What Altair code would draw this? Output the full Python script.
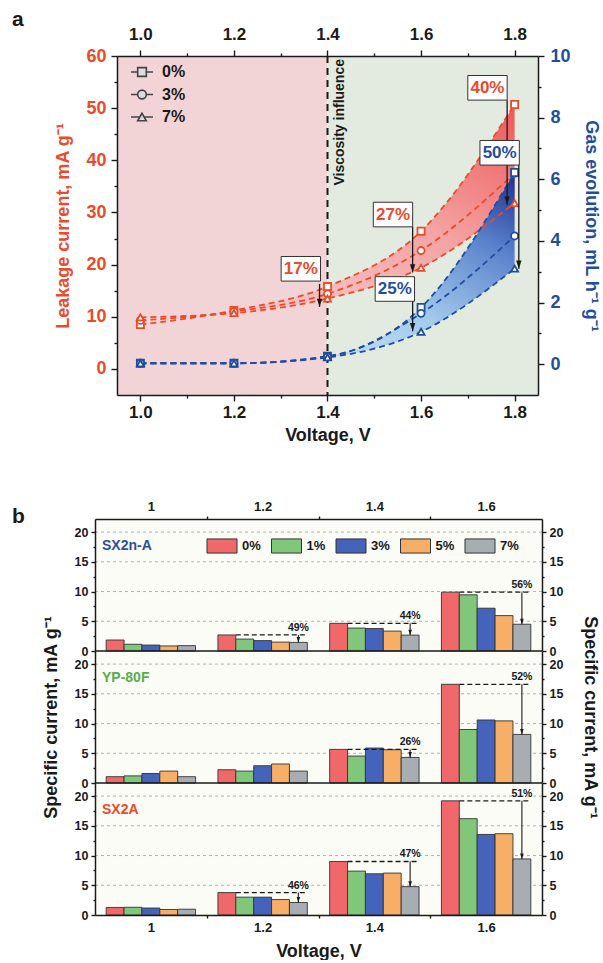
import altair as alt
import pandas as pd

FONT = "Liberation Sans"
RED = "#eb4a2b"
BLUE = "#1f4ea1"
GREEN_T = "#5aac4c"
INK = "#1a1a1a"

# ---------------- panel a data ----------------
volt_a = [1.0, 1.2, 1.4, 1.6, 1.8]
conc_a = ["0%", "3%", "7%"]
leak_0 = [8.5, 11.2, 15.8, 26.4, 50.7]
leak_3 = [9.3, 11.0, 14.4, 22.7, 37.5]
leak_7 = [9.9, 10.7, 13.5, 19.4, 31.8]
gas_0 = [0.03, 0.03, 0.26, 1.84, 6.22]
gas_3 = [0.03, 0.03, 0.24, 1.65, 4.16]
gas_7 = [0.03, 0.03, 0.22, 1.05, 3.10]

region_from = [0.95, 1.4]
region_to = [1.4, 1.85]
region_fill = ["#f2d4d6", "#e3ebe0"]

leak_ann_label = ["17%", "27%", "40%"]
leak_ann_box_x = [1.343, 1.540, 1.742]
leak_ann_box_y = [19.2, 29.6, 53.9]
leak_ann_arrow_x = [1.383, 1.582, 1.784]
leak_ann_arrow_from = [16.3, 27.3, 51.5]
leak_ann_arrow_to = [11.9, 18.5, 31.5]

gas_ann_label = ["25%", "50%"]
gas_ann_box_x = [1.544, 1.768]
gas_ann_box_y = [2.44, 6.86]
gas_ann_arrow_x = [1.582, 1.809]
gas_ann_arrow_from = [2.05, 6.46]
gas_ann_arrow_to = [1.07, 3.10]

# ---------------- panel b data ----------------
volt_b = [1.0, 1.2, 1.4, 1.6]
conc_b = ["0%", "1%", "3%", "5%", "7%"]
bar_colors = ["#f0686a", "#80c67b", "#4463bb", "#f7ae66", "#a8adb2"]

sx2na_0 = [1.85, 2.7, 4.65, 9.9]
sx2na_1 = [1.13, 2.0, 3.86, 9.45]
sx2na_3 = [1.0, 1.75, 3.78, 7.2]
sx2na_5 = [0.85, 1.5, 3.35, 5.95]
sx2na_7 = [0.9, 1.45, 2.67, 4.5]
sx2na_ann_v = [1.2, 1.4, 1.6]
sx2na_ann_label = ["49%", "44%", "56%"]

yp80f_0 = [1.06, 2.23, 5.65, 16.6]
yp80f_1 = [1.2, 2.0, 4.53, 9.0]
yp80f_3 = [1.6, 2.9, 5.88, 10.6]
yp80f_5 = [2.0, 3.2, 5.6, 10.45]
yp80f_7 = [1.06, 2.0, 4.3, 8.17]
yp80f_ann_v = [1.4, 1.6]
yp80f_ann_label = ["26%", "52%"]

sx2a_0 = [1.27, 3.77, 9.0, 19.2]
sx2a_1 = [1.3, 3.0, 7.38, 16.2]
sx2a_3 = [1.17, 3.0, 6.93, 13.55]
sx2a_5 = [0.93, 2.6, 7.05, 13.67]
sx2a_7 = [0.97, 2.1, 4.77, 9.43]
sx2a_ann_v = [1.2, 1.4, 1.6]
sx2a_ann_label = ["46%", "47%", "51%"]

grid_b = [5, 10, 15, 20]

# ---------------- layout constants ----------------
ARROW = "M0,0L-0.6,-1.8L0.6,-1.8Z"
BOX = "M-1.6,-1H1.6V1H-1.6Z"
SWATCH = "M-1,-0.47H1V0.47H-1Z"
W = 447                 # common width (panel b frame)
H_A = 339               # panel a plot height
XL, XR = 22, 443        # panel a frame inside the common width
GAP = 124               # panel a bottom -> panel b top
Y0 = H_A + GAP          # panel b top
H_P = 132               # height of each panel-b strip
HT = Y0 + 3 * H_P       # total height
BW = 0.032              # bar width in volts


def axis(orient, values, labels=True, title=None, tick=5, domain=False, color=INK,
         size=17, fmt=None, label_pad=3, title_pad=8, title_color=None, offset=None):
    kw = dict(orient=orient, values=values, labels=labels, ticks=tick > 0,
              tickSize=tick, tickColor=INK, tickWidth=1.4, domain=domain,
              domainColor=INK, domainWidth=1.5, grid=False, zindex=1,
              labelFont=FONT, labelFontSize=size, labelFontWeight="bold",
              labelColor=color, labelPadding=label_pad, labelFlush=False,
              labelOverlap=False)
    if offset is not None:
        kw["offset"] = offset
    if fmt:
        kw["format"] = fmt
    if title:
        kw.update(title=title, titleFont=FONT, titleFontSize=18, titleFontWeight="bold",
                  titleColor=title_color or color, titlePadding=title_pad)
    else:
        kw["title"] = None
    return alt.Axis(**kw)


def long_df(vs, series, names):
    rows = []
    for name, vals in zip(names, series):
        for v, y in zip(vs, vals):
            rows.append({"V": v, "conc": name, "val": y})
    return pd.DataFrame(rows)


# ================= panel a =================
xs_a = alt.Scale(domain=[0.95, 1.85], range=[XL, XR], nice=False, zero=False)
ysl = alt.Scale(domain=[-5, 60], range=[H_A, 0], nice=False, zero=False)
ysr = alt.Scale(domain=[-1, 10], range=[H_A, 0], nice=False, zero=False)


def XA(f, ax=None):
    return alt.X(f, type="quantitative", scale=xs_a, axis=ax)


def YL(f, ax=None):
    return alt.Y(f, type="quantitative", scale=ysl, axis=ax)


def YR(f, ax=None):
    return alt.Y(f, type="quantitative", scale=ysr, axis=ax)


df_leak = long_df(volt_a, [leak_0, leak_3, leak_7], conc_a)
df_gas = long_df(volt_a, [gas_0, gas_3, gas_7], conc_a)
df_leak_w = pd.DataFrame({"V": volt_a, "p0": leak_0, "p7": leak_7})
df_gas_w = pd.DataFrame({"V": volt_a, "p0": gas_0, "p7": gas_7})
df_bg = pd.DataFrame({"x0": region_from, "x1": region_to, "fill": region_fill})
df_ann_l = pd.DataFrame({"lab": leak_ann_label, "bx": leak_ann_box_x, "by": leak_ann_box_y,
                         "ax": leak_ann_arrow_x, "af": leak_ann_arrow_from, "at": leak_ann_arrow_to})
df_ann_r = pd.DataFrame({"lab": gas_ann_label, "bx": gas_ann_box_x, "by": gas_ann_box_y,
                         "ax": gas_ann_arrow_x, "af": gas_ann_arrow_from, "at": gas_ann_arrow_to})
df_leg = pd.DataFrame({"lab": conc_a})

xb_major = axis("bottom", volt_a, fmt=".1f", tick=6, domain=True, size=17,
                title="Voltage, V", title_pad=6, offset=-(HT - H_A))
xt_major = axis("top", volt_a, fmt=".1f", tick=6, domain=True, size=17, label_pad=7)
xb_minor = axis("bottom", [1.1, 1.3, 1.5, 1.7], labels=False, tick=3, offset=-(HT - H_A))
xt_minor = axis("top", [1.1, 1.3, 1.5, 1.7], labels=False, tick=3)
yl_major = axis("left", [0, 10, 20, 30, 40, 50, 60], tick=6, domain=True, color=RED, size=18,
                title="Leakage current, mA g⁻¹", title_pad=13, label_pad=5, offset=-XL)
yl_minor = axis("left", [5, 15, 25, 35, 45, 55], labels=False, tick=3, offset=-XL)
yr_major = axis("right", [0, 2, 4, 6, 8, 10], tick=6, domain=True, color=BLUE, size=18,
                title="Gas evolution, mL h⁻¹ g⁻¹", title_pad=11, label_pad=6, offset=-(W - XR))
yr_minor = axis("right", [1, 3, 5, 7, 9], labels=False, tick=3, offset=-(W - XR))

red_grad = alt.Gradient(gradient="linear", x1=0, y1=1, x2=1, y2=0, stops=[
    alt.GradientStop(color="#f8d6d6", offset=0),
    alt.GradientStop(color="#f4a4a4", offset=0.6),
    alt.GradientStop(color="#ee5858", offset=1)])
blue_grad = alt.Gradient(gradient="linear", x1=0, y1=1, x2=1, y2=0, stops=[
    alt.GradientStop(color="#e2eef9", offset=0),
    alt.GradientStop(color="#a3cbec", offset=0.5),
    alt.GradientStop(color="#5a82cb", offset=0.78),
    alt.GradientStop(color="#1f2e8e", offset=1)])

shape_scale = alt.Scale(domain=conc_a, range=["square", "circle", "triangle-up"])

bg = alt.Chart(df_bg).mark_rect().encode(
    x=XA("x0", xb_major), x2="x1", y=alt.value(0), y2=alt.value(H_A),
    fill=alt.Fill("fill:N", scale=None))
vline = alt.Chart(pd.DataFrame({"x": [1.4]})).mark_rule(
    color=INK, strokeWidth=2, strokeDash=[7, 5]).encode(
    x=XA("x", xt_major), y=alt.value(0), y2=alt.value(H_A))
visc = alt.Chart(pd.DataFrame({"x": [1.4], "t": ["Viscosity influence"]})).mark_text(
    angle=270, align="right", baseline="top", dy=5, font=FONT, fontSize=14,
    fontWeight="bold", color=INK).encode(x=XA("x", xb_minor), y=alt.value(3), text="t:N")
area_l = alt.Chart(df_leak_w).mark_area(interpolate="monotone", color=red_grad, opacity=1).encode(
    x=XA("V", xt_minor), y=YL("p0", yl_major), y2="p7")
area_r = alt.Chart(df_gas_w).mark_area(interpolate="monotone", color=blue_grad, opacity=1).encode(
    x=XA("V"), y=YR("p0", yr_major), y2="p7")
lines_l = alt.Chart(df_leak).mark_line(interpolate="monotone", color=RED, strokeDash=[6, 4],
                                       strokeWidth=1.8).encode(
    x=XA("V"), y=YL("val", yl_minor), detail="conc:N")
lines_r = alt.Chart(df_gas).mark_line(interpolate="monotone", color=BLUE, strokeDash=[6, 4],
                                      strokeWidth=1.8).encode(
    x=XA("V"), y=YR("val", yr_minor), detail="conc:N")
pts_l = alt.Chart(df_leak).mark_point(size=50, filled=True, fill="white", stroke=RED,
                                      strokeWidth=1.8, opacity=1).encode(
    x=XA("V"), y=YL("val"), shape=alt.Shape("conc:N", scale=shape_scale, legend=None))
pts_r = alt.Chart(df_gas).mark_point(size=50, filled=True, fill="white", stroke=BLUE,
                                     strokeWidth=1.8, opacity=1).encode(
    x=XA("V"), y=YR("val"), shape=alt.Shape("conc:N", scale=shape_scale, legend=None))

# legend of panel a drawn as marks (symbol with line stubs + label)
leg_y = alt.Y("lab:N", scale=alt.Scale(type="point", domain=conc_a, range=[16, 61], padding=0),
              axis=None)
leg_line = alt.Chart(df_leg).mark_rule(color="#444", strokeWidth=1.5).encode(
    x=alt.value(XL + 14), x2=alt.value(XL + 36), y=leg_y)
leg_sym = alt.Chart(df_leg).mark_point(size=75, filled=True, fill="#dcdcdc", stroke="#444",
                                       strokeWidth=1.6, opacity=1).encode(
    x=alt.value(XL + 25), y=leg_y, shape=alt.Shape("lab:N", scale=shape_scale, legend=None))
leg_txt = alt.Chart(df_leg).mark_text(align="left", baseline="middle", font=FONT, fontSize=16,
                                      fontWeight="bold", color=INK).encode(
    x=alt.value(XL + 45), y=leg_y, text="lab:N")


def ann_layers(df, Y, color):
    arr = alt.Chart(df).mark_rule(color=INK, strokeWidth=1.3).encode(
        x=XA("ax"), y=Y("af"), y2="at")
    head = alt.Chart(df).mark_point(shape=ARROW, size=81, filled=True, color=INK, opacity=1).encode(
        x=XA("ax"), y=Y("at"))
    box = alt.Chart(df).mark_point(shape=BOX, size=605, filled=True, fill="white", stroke="#333",
                                   strokeWidth=1, opacity=1).encode(x=XA("bx"), y=Y("by"))
    txt = alt.Chart(df).mark_text(font=FONT, fontSize=17, fontWeight="bold", color=color,
                                  baseline="middle").encode(x=XA("bx"), y=Y("by"), text="lab:N")
    return [arr, head, box, txt]


letter_a = alt.Chart(pd.DataFrame({"t": ["a"]})).mark_text(
    align="left", baseline="alphabetic", font=FONT, fontSize=21, fontWeight="bold",
    color=INK).encode(x=alt.value(-83), y=alt.value(-30), text="t:N")

arr_l = ann_layers(df_ann_l, YL, RED)
arr_r = ann_layers(df_ann_r, YR, BLUE)
layers = [bg, vline, visc, area_l, area_r, lines_l, lines_r, pts_l, pts_r,
          arr_l[0], arr_l[1], arr_r[0], arr_r[1], arr_l[2], arr_l[3], arr_r[2], arr_r[3],
          leg_line, leg_sym, leg_txt, letter_a]

# ================= panel b =================
xs_b = alt.Scale(domain=[0.9, 1.7], range=[0, W], nice=False, zero=False)
color_b = alt.Scale(domain=conc_b, range=bar_colors)


def XB(f, ax=None):
    return alt.X(f, type="quantitative", scale=xs_b, axis=ax)


layers.append(alt.Chart(pd.DataFrame({"t": [0]})).mark_rect(fill="#fcfcf6").encode(
    x=alt.value(0), x2=alt.value(W), y=alt.value(Y0), y2=alt.value(HT)))

panels = [
    ("SX2n-A", "#2b4ea0", [sx2na_0, sx2na_1, sx2na_3, sx2na_5, sx2na_7], sx2na_ann_v, sx2na_ann_label),
    ("YP-80F", GREEN_T, [yp80f_0, yp80f_1, yp80f_3, yp80f_5, yp80f_7], yp80f_ann_v, yp80f_ann_label),
    ("SX2A", RED, [sx2a_0, sx2a_1, sx2a_3, sx2a_5, sx2a_7], sx2a_ann_v, sx2a_ann_label),
]

for i, (name, ncol, series, ann_v, ann_lab) in enumerate(panels):
    top_px = Y0 + H_P * i
    ys = alt.Scale(domain=[0, 22.2], range=[top_px + H_P, top_px], nice=False, zero=False)

    def YB(f, ax=None, ys=ys):
        return alt.Y(f, type="quantitative", scale=ys, axis=ax)

    df = long_df(volt_b, series, conc_b)
    df["k"] = df["conc"].map({c: j for j, c in enumerate(conc_b)})
    red = [series[0][volt_b.index(v)] for v in ann_v]
    gray = [series[4][volt_b.index(v)] for v in ann_v]
    dfa = pd.DataFrame({"V": ann_v, "lab": ann_lab, "red": red, "gray": gray})
    stitle = "Specific current, mA g⁻¹" if i == 1 else None

    yl = axis("left", [0, 5, 10, 15, 20], tick=4, domain=True, size=12.5, title=stitle,
              title_pad=14)
    yr = axis("right", [0, 5, 10, 15, 20], tick=4, domain=True, size=12.5, title=stitle,
              title_pad=18)
    ylm = axis("left", [2.5, 7.5, 12.5, 17.5], labels=False, tick=2)
    yrm = axis("right", [2.5, 7.5, 12.5, 17.5], labels=False, tick=2)
    if i == 0:
        xa1 = axis("top", volt_b, fmt="~g", tick=0, size=13, label_pad=6, domain=True,
                   offset=-Y0)
        xa2 = axis("top", [1.1, 1.3, 1.5], labels=False, tick=3, offset=-Y0)
    elif i == 2:
        xa1 = axis("bottom", volt_b, fmt="~g", tick=0, size=13, label_pad=6, domain=True,
                   title="Voltage, V", title_pad=8)
        xa2 = axis("bottom", [1.1, 1.3, 1.5], labels=False, tick=3)
    else:
        xa1 = None
        xa2 = None

    grid = alt.Chart(pd.DataFrame({"g": grid_b})).mark_rule(
        color="#a0a0a0", strokeWidth=0.8, strokeDash=[3, 3]).encode(
        y=YB("g"), x=alt.value(0), x2=alt.value(W))
    bars = alt.Chart(df).transform_calculate(
        x1=f"datum.V + (datum.k - 2.5) * {BW}", x2=f"datum.V + (datum.k - 1.5) * {BW}",
        zero="0"
    ).mark_rect(stroke="#333", strokeWidth=0.9, opacity=1).encode(
        x=XB("x1", xa1), x2="x2:Q", y=YB("val", yl), y2="zero:Q",
        color=alt.Color("conc:N", scale=color_b, legend=None))
    ann = alt.Chart(dfa).transform_calculate(
        xa=f"datum.V - 1.5 * {BW}", xb=f"datum.V + 2.5 * {BW}", xg=f"datum.V + 2 * {BW}")
    dash = ann.mark_rule(color=INK, strokeWidth=1.3, strokeDash=[5, 3]).encode(
        x=XB("xa", xa2), x2="xb:Q", y=YB("red", yr))
    arr = ann.mark_rule(color=INK, strokeWidth=1.1).encode(
        x=XB("xg"), y=YB("red", ylm), y2="gray:Q")
    head = ann.mark_point(shape=ARROW, size=36, filled=True, color=INK, opacity=1).encode(
        x=XB("xg"), y=YB("gray", yrm))
    txt = ann.mark_text(font=FONT, fontSize=10.5, fontWeight="bold", color=INK,
                        baseline="bottom", dy=-2).encode(
        x=XB("xg"), y=YB("red"), text="lab:N")
    lab = alt.Chart(pd.DataFrame({"t": [name]})).mark_text(
        align="left", baseline="alphabetic", font=FONT, fontSize=14, fontWeight="bold",
        color=ncol).encode(x=alt.value(7), y=alt.value(top_px + 31), text="t:N")
    layers += [grid, bars, dash, arr, head, txt, lab]
    if i < 2:
        layers.append(alt.Chart(pd.DataFrame({"z": [0]})).mark_rule(
            color=INK, strokeWidth=1.5).encode(y=YB("z"), x=alt.value(0), x2=alt.value(W)))

# legend of panel b drawn as marks
df_legb = pd.DataFrame({"conc": conc_b})
legb_x = alt.X("conc:N", scale=alt.Scale(type="point", domain=conc_b, range=[127, 385], padding=0),
               axis=None)
layers.append(alt.Chart(df_legb).mark_point(shape=SWATCH, size=900, filled=True, stroke="#333",
                                            strokeWidth=1, opacity=1).encode(
    x=legb_x, y=alt.value(Y0 + 27), color=alt.Color("conc:N", scale=color_b, legend=None)))
layers.append(alt.Chart(df_legb).mark_text(align="left", baseline="middle", dx=20, font=FONT,
                                           fontSize=13, fontWeight="bold", color=INK).encode(
    x=legb_x, y=alt.value(Y0 + 27), text="conc:N"))

layers.append(alt.Chart(pd.DataFrame({"t": ["b"]})).mark_text(
    align="left", baseline="alphabetic", font=FONT, fontSize=21, fontWeight="bold",
    color=INK).encode(x=alt.value(-83), y=alt.value(Y0 + 4), text="t:N"))

chart = alt.layer(*layers).resolve_scale(x="independent", y="independent").resolve_axis(
    x="independent", y="independent").properties(
    width=W, height=HT,
    padding={"left": 12, "top": 9, "right": 2, "bottom": 0}, background="white"
).configure(font=FONT).configure_view(strokeOpacity=0)

chart.save("out.html", embed_options={"renderer": "svg", "actions": False})
